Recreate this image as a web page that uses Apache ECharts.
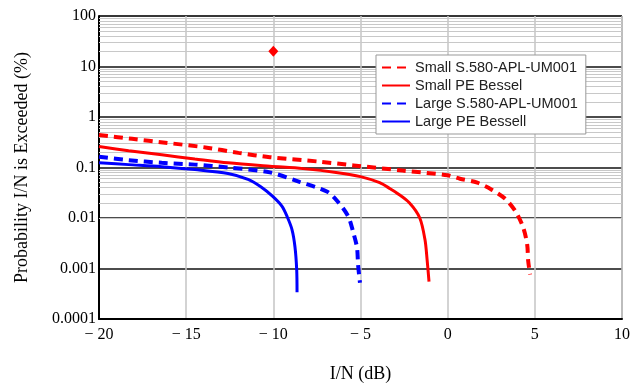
<!DOCTYPE html>
<html lang="en">
<head>
  <meta charset="UTF-8">
  <title>Probability I/N is Exceeded</title>
  <script src="https://cdn.jsdelivr.net/npm/echarts@6/dist/echarts.min.js"></script>
  <style>
    html, body { margin: 0; padding: 0; background: #fff; }
    #chart { width: 633px; height: 386px; }
  </style>
</head>
<body>
  <div id="chart"></div>
  <script>
    // values
    const seriesNames = ['Small S.580-APL-UM001', 'Small PE Bessel', 'Large S.580-APL-UM001', 'Large PE Bessell'];

    const smallS580X = [-20, -18.1, -16.2, -13.9, -12.0, -10.2, -7.3, -5.4, -2.6, 0.0, 0.7, 1.7, 2.55, 3.3, 3.9, 4.33, 4.56, 4.62, 4.73];
    const smallS580Y = [0.44, 0.37, 0.31, 0.25, 0.195, 0.16, 0.13, 0.11, 0.087, 0.07, 0.06, 0.05, 0.036, 0.024, 0.0134, 0.0065, 0.003, 0.0014, 0.00076];

    const smallPEX = [-20, -18.3, -16.4, -14.5, -12.6, -10.2, -8.3, -6.3, -5.0, -3.9, -3.3, -2.9, -2.2, -1.6, -1.3, -1.18, -1.07];
    const smallPEY = [0.26, 0.215, 0.178, 0.148, 0.124, 0.106, 0.095, 0.079, 0.066, 0.05, 0.038, 0.031, 0.02, 0.01, 0.0037, 0.0015, 0.00055];

    const largeS580X = [-20, -18.3, -16.4, -14.5, -12.6, -10.2, -8.5, -6.9, -6.3, -5.7, -5.43, -5.2, -5.14, -5.03];
    const largeS580Y = [0.163, 0.14, 0.124, 0.114, 0.1, 0.08, 0.052, 0.033, 0.021, 0.0107, 0.0054, 0.0026, 0.0012, 0.00052];

    const largePEX = [-20, -18.3, -16.4, -14.5, -12.6, -11.45, -10.7, -10.05, -9.5, -9.21, -8.93, -8.76, -8.66, -8.64];
    const largePEY = [0.124, 0.114, 0.104, 0.091, 0.076, 0.058, 0.041, 0.027, 0.017, 0.0107, 0.0059, 0.0027, 0.00095, 0.00034];

    const markerX = [-10];
    const markerY = [20];

    const yTickLabels = ['0.0001', '0.001', '0.01', '0.1', '1', '10', '100'];

    // light minor grid lines at 2..9 of every decade
    const minorLines = [];
    for (let e = -4; e < 2; e++) {
      for (let k = 2; k <= 9; k++) minorLines.push(k * Math.pow(10, e));
    }

    const pairs = (xs, ys) => xs.map((x, i) => [x, ys[i]]);

    const serif = '"Liberation Serif", "Times New Roman", serif';

    function curve(name, xs, ys, color, dashed) {
      return {
        name: name,
        type: 'line',
        data: pairs(xs, ys),
        showSymbol: false,
        symbol: 'none',
        smooth: 0.3,
        z: 3,
        lineStyle: {
          color: color,
          width: dashed ? 4 : 3,
          type: dashed ? [9, 6] : 'solid'
        },
        itemStyle: { color: color }
      };
    }

    const chart = echarts.init(document.getElementById('chart'));

    chart.setOption({
      animation: false,
      grid: {
        left: 99, right: 11, top: 16, bottom: 67,
        outerBoundsMode: 'none',
        containLabel: false,
        show: true, borderColor: '#555', borderWidth: 1
      },
      legend: {
        z: 20,
        orient: 'vertical',
        left: 376, top: 55,
        padding: [5, 8, 5, 5],
        itemGap: 3,
        itemWidth: 28,
        itemHeight: 14,
        backgroundColor: '#fff',
        borderColor: '#999',
        borderWidth: 1,
        itemStyle: { opacity: 0 },
        textStyle: { fontFamily: '"Liberation Sans", Arial, sans-serif', fontSize: 14.5, color: '#222' },
        data: seriesNames
      },
      xAxis: {
        type: 'value',
        min: -20, max: 10, interval: 5,
        name: 'I/N (dB)',
        nameLocation: 'middle',
        nameGap: 46,
        nameTextStyle: { fontFamily: serif, fontSize: 18, color: '#000' },
        axisLine: { onZero: false, lineStyle: { color: '#000', width: 2 } },
        axisTick: { show: false },
        axisLabel: {
          fontFamily: serif, fontSize: 16, color: '#000', margin: 8,
          formatter: v => v < 0 ? '\u2212 ' + Math.abs(v) : String(v)
        },
        splitLine: { show: true, lineStyle: { color: '#c4c4c4', width: 1.5 } }
      },
      yAxis: {
        type: 'log',
        logBase: 10,
        min: 0.0001, max: 100, interval: 1,
        name: 'Probability I/N is Exceeded (%)',
        nameLocation: 'middle',
        nameGap: 68,
        nameTextStyle: { fontFamily: serif, fontSize: 18, color: '#000' },
        axisLine: { show: true, onZero: false, lineStyle: { color: '#000', width: 2 } },
        axisTick: { show: false },
        axisLabel: {
          fontFamily: serif, fontSize: 16, color: '#000', margin: 3,
          formatter: v => yTickLabels[Math.round(Math.log10(v)) + 4]
        },
        splitLine: { show: true, lineStyle: { color: '#111', width: 1.6 } }
      },
      series: [
        {
          name: 'minor',
          type: 'line',
          data: [],
          z: 1,
          silent: true,
          markLine: {
            silent: true,
            symbol: 'none',
            z: 1,
            label: { show: false },
            lineStyle: { color: '#c8c8c8', width: 1, type: 'solid' },
            data: minorLines.map(v => ({ yAxis: v }))
          }
        },
        curve(seriesNames[0], smallS580X, smallS580Y, '#ff0000', true),
        curve(seriesNames[1], smallPEX, smallPEY, '#ff0000', false),
        curve(seriesNames[2], largeS580X, largeS580Y, '#0000ff', true),
        curve(seriesNames[3], largePEX, largePEY, '#0000ff', false),
        {
          name: 'marker',
          type: 'scatter',
          symbol: 'diamond',
          symbolSize: [10, 11],
          z: 4,
          itemStyle: { color: '#ff0000', opacity: 1 },
          data: pairs(markerX, markerY)
        }
      ]
    });
  </script>
</body>
</html>
